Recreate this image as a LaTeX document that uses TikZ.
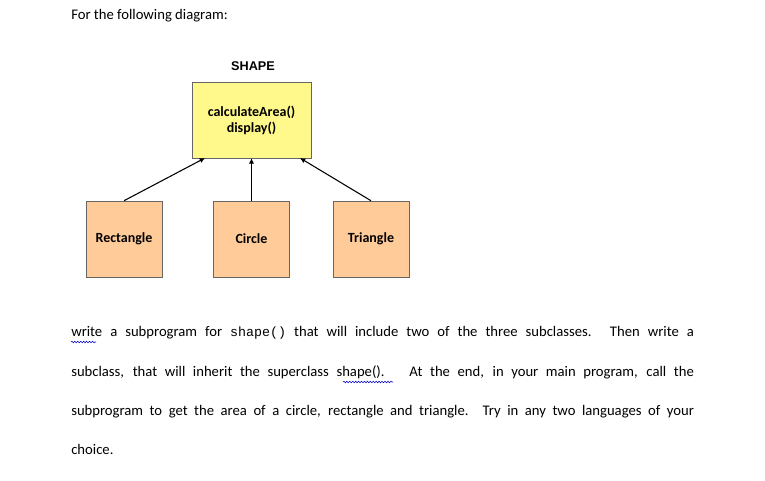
\documentclass[tikz,border=0pt]{standalone}
\usepackage{fontspec}
\setmainfont{Carlito}
\newfontfamily\arialf{Liberation Sans}
\newfontfamily\courf{Liberation Mono}
\usetikzlibrary{decorations.pathmorphing,arrows.meta}
\begin{document}
\begin{tikzpicture}[x=0.75pt,y=-0.75pt,
  cls/.style={draw=black!60,fill=#1,minimum width=57pt,minimum height=57pt,inner sep=0pt,font=\bfseries\fontsize{10.5}{12}\selectfont,align=center},
  inh/.style={-{Latex[length=4pt,width=4pt]},line width=0.8pt},
  body/.style={anchor=base west,inner sep=0pt,font=\fontsize{11}{13}\selectfont},
  squig/.style={draw=blue!80!black,line width=0.4pt,decoration={snake,amplitude=0.6pt,segment length=2.2pt},decorate}]
\useasboundingbox (0,0) rectangle (765,481);
\node[body] (intro) at (71,20) {For the following diagram:};
\node[anchor=center,font=\arialf\bfseries\fontsize{9.5}{11}\selectfont] (title) at (253,66) {SHAPE};
\node[cls={yellow!45}, minimum width=89pt] (shape) at (251.5,120) {calculateArea()\\display()};
\node[cls={orange!40}] (rect) at (124,239) {Rectangle};
\node[cls={orange!40}] (circ) at (251.5,239) {Circle};
\node[cls={orange!40}] (tri) at (371,239) {Triangle};
\coordinate (a1) at (205,158);
\coordinate (a3) at (300,158);
\draw[inh] (rect.north) -- (a1);
\draw[inh] (circ.north) -- (shape.south);
\draw[inh] (tri.north) -- (a3);
\node[body] (l1) at (71,337) {\makebox[467pt][s]{write a subprogram for {\courf\fontsize{10}{12}\selectfont shape()} that will include two of the three subclasses. Then write a}};
\node[body] (l2) at (71,377) {\makebox[467pt][s]{subclass, that will inherit the superclass shape().~ At the end, in your main program, call the}};
\node[body] (l3) at (71,416) {\makebox[467pt][s]{subprogram to get the area of a circle, rectangle and triangle. Try in any two languages of your}};
\node[body] (l4) at (71,455) {choice.};
\draw[squig] (71,342) -- (96,342);
\draw[squig] (343,382) -- (393,382);
\end{tikzpicture}
\end{document}
